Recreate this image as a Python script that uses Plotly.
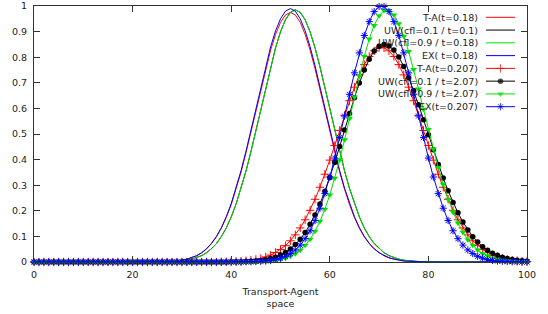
import plotly.graph_objects as go

# ---------------- data ----------------
X = list(range(101))

TA_018 = [0, 0, 0, 0, 0, 0, 0, 0, 0, 0, 0, 0, 0, 0, 0, 0, 0, 0, 0, 0, 0, 0, 0, 0, 0,
          0.001, 0.001, 0.002, 0.003, 0.004, 0.007, 0.011, 0.016, 0.024, 0.036, 0.051, 0.072, 0.098, 0.132,
          0.174, 0.224, 0.284, 0.351, 0.427, 0.507, 0.591, 0.675, 0.755, 0.828, 0.889, 0.936, 0.965, 0.975,
          0.965, 0.936, 0.889, 0.828, 0.755, 0.675, 0.591, 0.507, 0.427, 0.351, 0.284, 0.224, 0.174, 0.132,
          0.098, 0.072, 0.051, 0.036, 0.024, 0.016, 0.011, 0.007, 0.004, 0.003, 0.002, 0.001, 0.001,
          0, 0, 0, 0, 0, 0, 0, 0, 0, 0, 0, 0, 0, 0, 0, 0, 0, 0, 0, 0, 0]

UW01_01 = [0, 0, 0, 0, 0, 0, 0, 0, 0, 0, 0, 0, 0, 0, 0, 0, 0, 0, 0, 0, 0, 0, 0, 0, 0, 0,
           0.001, 0.001, 0.002, 0.003, 0.004, 0.007, 0.011, 0.017, 0.025, 0.036, 0.052, 0.072, 0.099, 0.133,
           0.176, 0.227, 0.287, 0.355, 0.431, 0.513, 0.597, 0.682, 0.763, 0.837, 0.899, 0.946, 0.975, 0.985,
           0.975, 0.946, 0.899, 0.837, 0.763, 0.682, 0.597, 0.513, 0.431, 0.355, 0.287, 0.227, 0.176, 0.133,
           0.099, 0.072, 0.052, 0.036, 0.025, 0.017, 0.011, 0.007, 0.004, 0.003, 0.002, 0.001, 0.001,
           0, 0, 0, 0, 0, 0, 0, 0, 0, 0, 0, 0, 0, 0, 0, 0, 0, 0, 0, 0]

UW09_018 = [0, 0, 0, 0, 0, 0, 0, 0, 0, 0, 0, 0, 0, 0, 0, 0, 0, 0, 0, 0, 0, 0, 0, 0, 0, 0,
            0.001, 0.001, 0.002, 0.003, 0.004, 0.007, 0.011, 0.017, 0.025, 0.036, 0.052, 0.072, 0.099, 0.133,
            0.176, 0.227, 0.287, 0.355, 0.431, 0.513, 0.597, 0.682, 0.763, 0.837, 0.899, 0.946, 0.975, 0.985,
            0.975, 0.946, 0.899, 0.837, 0.763, 0.682, 0.597, 0.513, 0.431, 0.355, 0.287, 0.227, 0.176, 0.133,
            0.099, 0.072, 0.052, 0.036, 0.025, 0.017, 0.011, 0.007, 0.004, 0.003, 0.002, 0.001, 0.001,
            0, 0, 0, 0, 0, 0, 0, 0, 0, 0, 0, 0, 0, 0, 0, 0, 0, 0, 0, 0]

EX_018 = [0, 0, 0, 0, 0, 0, 0, 0, 0, 0, 0, 0, 0, 0, 0, 0, 0, 0, 0, 0, 0, 0, 0, 0, 0,
          0.001, 0.001, 0.002, 0.003, 0.004, 0.007, 0.011, 0.017, 0.025, 0.036, 0.052, 0.073, 0.100, 0.134,
          0.177, 0.228, 0.288, 0.357, 0.433, 0.515, 0.600, 0.686, 0.767, 0.841, 0.903, 0.950, 0.980, 0.990,
          0.980, 0.950, 0.903, 0.841, 0.767, 0.686, 0.600, 0.515, 0.433, 0.357, 0.288, 0.228, 0.177, 0.134,
          0.100, 0.073, 0.052, 0.036, 0.025, 0.017, 0.011, 0.007, 0.004, 0.003, 0.002, 0.001, 0.001,
          0, 0, 0, 0, 0, 0, 0, 0, 0, 0, 0, 0, 0, 0, 0, 0, 0, 0, 0, 0, 0]

TA_0207 = [0, 0, 0, 0, 0, 0, 0, 0, 0, 0, 0, 0, 0, 0, 0, 0, 0, 0, 0, 0,
           0, 0, 0, 0, 0, 0, 0, 0, 0, 0, 0, 0, 0, 0, 0, 0, 0, 0,
           0.001, 0.001, 0.002, 0.002, 0.003, 0.005, 0.007, 0.010, 0.014, 0.020, 0.027, 0.037,
           0.049, 0.064, 0.083, 0.106, 0.133, 0.165, 0.202, 0.245, 0.292, 0.343, 0.398, 0.455,
           0.514, 0.573, 0.630, 0.683, 0.731, 0.771, 0.803, 0.825, 0.837, 0.837, 0.825, 0.803,
           0.771, 0.731, 0.683, 0.630, 0.573, 0.514, 0.455, 0.398, 0.343, 0.292, 0.245, 0.202,
           0.165, 0.133, 0.106, 0.083, 0.064, 0.049, 0.037, 0.027, 0.020, 0.014, 0.010, 0.007,
           0.005, 0.003, 0.002]

UW01_207 = [0, 0, 0, 0, 0, 0, 0, 0, 0, 0, 0, 0, 0, 0, 0, 0, 0, 0, 0, 0,
            0, 0, 0, 0, 0, 0, 0, 0, 0, 0, 0, 0, 0, 0, 0, 0, 0, 0, 0, 0,
            0.001, 0.001, 0.001, 0.002, 0.003, 0.004, 0.006, 0.009, 0.014, 0.019, 0.027, 0.037,
            0.051, 0.068, 0.089, 0.115, 0.147, 0.184, 0.227, 0.276, 0.330, 0.389, 0.451, 0.516,
            0.580, 0.642, 0.699, 0.750, 0.792, 0.824, 0.843, 0.850, 0.844, 0.828, 0.801, 0.764,
            0.720, 0.670, 0.614, 0.556, 0.497, 0.438, 0.381, 0.328, 0.278, 0.232, 0.192, 0.156,
            0.125, 0.099, 0.078, 0.060, 0.046, 0.034, 0.026, 0.019, 0.014, 0.010, 0.007, 0.005,
            0.003]

UW09_207 = [0, 0, 0, 0, 0, 0, 0, 0, 0, 0, 0, 0, 0, 0, 0, 0, 0, 0, 0, 0,
            0, 0, 0, 0, 0, 0, 0, 0, 0, 0, 0, 0, 0, 0, 0, 0, 0, 0, 0, 0,
            0, 0, 0, 0, 0,
            0.001, 0.001, 0.002, 0.004, 0.006, 0.010, 0.015, 0.022, 0.032, 0.046, 0.065, 0.089,
            0.120, 0.159, 0.206, 0.262, 0.327, 0.399, 0.478, 0.561, 0.645, 0.727, 0.804, 0.871,
            0.924, 0.962, 0.982, 0.982, 0.965, 0.931, 0.882, 0.822, 0.752, 0.676, 0.597, 0.518,
            0.441, 0.369, 0.304, 0.245, 0.195, 0.152, 0.116, 0.087, 0.065, 0.047, 0.033, 0.024,
            0.016, 0.011, 0.007, 0.005, 0.003, 0.002, 0.001, 0.001]

EX_207 = [0, 0, 0, 0, 0, 0, 0, 0, 0, 0, 0, 0, 0, 0, 0, 0, 0, 0, 0, 0,
          0, 0, 0, 0, 0, 0, 0, 0, 0, 0, 0, 0, 0, 0, 0, 0, 0, 0, 0, 0,
          0, 0, 0,
          0.001, 0.001, 0.002, 0.003, 0.004, 0.006, 0.010, 0.015, 0.022, 0.033, 0.047, 0.066,
          0.091, 0.122, 0.162, 0.210, 0.267, 0.332, 0.406, 0.486, 0.570, 0.655, 0.739, 0.817,
          0.885, 0.939, 0.978, 0.998, 0.998, 0.978, 0.939, 0.885, 0.817, 0.739, 0.655, 0.570,
          0.486, 0.406, 0.332, 0.267, 0.210, 0.162, 0.122, 0.091, 0.066, 0.047, 0.033, 0.022,
          0.015, 0.010, 0.006, 0.004, 0.003, 0.002, 0.001, 0.001, 0.0, 0.0]

SERIES_NAMES = ["T-A(t=0.18)", "UW(cfl=0.1 / t=0.1)", "UW(cfl=0.9 / t=0.18)", "EX( t=0.18)",
                "T-A(t=0.207)", "UW(cfl=0.1 / t=2.07)", "UW(cfl=0.9 / t=2.07)", "EX(t=0.207)"]
SERIES_VALUES = [TA_018, UW01_01, UW09_018, EX_018, TA_0207, UW01_207, UW09_207, EX_207]

X_TICKS = [0, 20, 40, 60, 80, 100]
Y_TICKS = [0, 0.1, 0.2, 0.3, 0.4, 0.5, 0.6, 0.7, 0.8, 0.9, 1]

# ---------------- styles ----------------
RED, BLACK, GREEN, BLUE = "#ff0000", "#000000", "#00e000", "#0000ff"
STYLES = [
    dict(color=RED, marker=None),
    dict(color=BLACK, marker=None),
    dict(color=GREEN, marker=None),
    dict(color=BLUE, marker=None),
    dict(color=RED, marker=dict(symbol="cross-thin-open", size=6, line=dict(color=RED, width=1))),
    dict(color=BLACK, marker=dict(symbol="circle", size=5.5, color=BLACK, line=dict(width=0))),
    dict(color=GREEN, marker=dict(symbol="triangle-down", size=6, color=GREEN, line=dict(width=0))),
    dict(color=BLUE, marker=dict(symbol="asterisk-open", size=6, line=dict(color=BLUE, width=1))),
]

FONT = "DejaVu Sans"
TXT = "#222222"
W, H = 548, 314
# plot area in page pixels: x 34..527, y 6..262
L, R, T, B = 34, 21, 6, 52

fig = go.Figure()
for name, vals, st in zip(SERIES_NAMES, SERIES_VALUES, STYLES):
    if st["marker"] is None:
        fig.add_trace(go.Scatter(x=X, y=vals, mode="lines", name=name,
                                 line=dict(color=st["color"], width=1), showlegend=False))
    else:
        fig.add_trace(go.Scatter(x=X, y=vals, mode="lines+markers", name=name,
                                 line=dict(color=st["color"], width=1), marker=st["marker"],
                                 cliponaxis=False, showlegend=False))

# ---------------- gnuplot-style key (right aligned text, sample on the right) ----------------
# overlay axes expressed in pixels of the plot area
px_left, px_right = L, W - R
px_top, px_bot = T, H - B
key_text_x = 480
key_line = (486, 515)
for i, (name, st) in enumerate(zip(SERIES_NAMES, STYLES)):
    ry = 17.3 + 12.77 * i
    if st["marker"] is None:
        fig.add_trace(go.Scatter(x=[key_line[0], key_line[1]], y=[ry, ry], mode="lines",
                                 line=dict(color=st["color"], width=1), xaxis="x2", yaxis="y2",
                                 showlegend=False, hoverinfo="skip"))
    else:
        mk = dict(st["marker"])
        mk["size"] = [0, st["marker"]["size"], 0]
        fig.add_trace(go.Scatter(x=[key_line[0], (key_line[0] + key_line[1]) / 2, key_line[1]],
                                 y=[ry, ry, ry], mode="lines+markers",
                                 line=dict(color=st["color"], width=1), marker=mk,
                                 xaxis="x2", yaxis="y2", cliponaxis=False,
                                 showlegend=False, hoverinfo="skip"))
    fig.add_annotation(x=key_text_x, y=ry, xref="x2", yref="y2", text=name, showarrow=False,
                       xanchor="right", yanchor="middle", font=dict(family=FONT, size=9.5, color=TXT))

axis_common = dict(showline=True, linecolor="#333333", linewidth=1, mirror="ticks",
                   ticks="inside", ticklen=6, tickcolor="#333333", tickwidth=1,
                   showgrid=False, zeroline=False, automargin=False,
                   tickfont=dict(family=FONT, size=9.5, color=TXT))

fig.update_layout(
    width=W, height=H,
    margin=dict(l=L, r=R, t=T, b=B, pad=0),
    paper_bgcolor="white", plot_bgcolor="white",
    showlegend=False,
    hovermode=False,
    xaxis=dict(range=[0, 100], tickvals=X_TICKS, ticklabelstandoff=4,
               title=dict(text="Transport-Agent<br>space", font=dict(family=FONT, size=9.5, color=TXT),
                          standoff=8),
               **axis_common),
    yaxis=dict(range=[0, 1], tickvals=Y_TICKS, ticklabelstandoff=4, **axis_common),
    xaxis2=dict(overlaying="x", range=[px_left, px_right], visible=False, fixedrange=True),
    yaxis2=dict(overlaying="y", range=[px_bot, px_top], visible=False, fixedrange=True),
    font=dict(family=FONT),
)

fig.write_html("out.html", config={"displayModeBar": False, "staticPlot": True},
               post_script="document.body.style.margin='0';")
